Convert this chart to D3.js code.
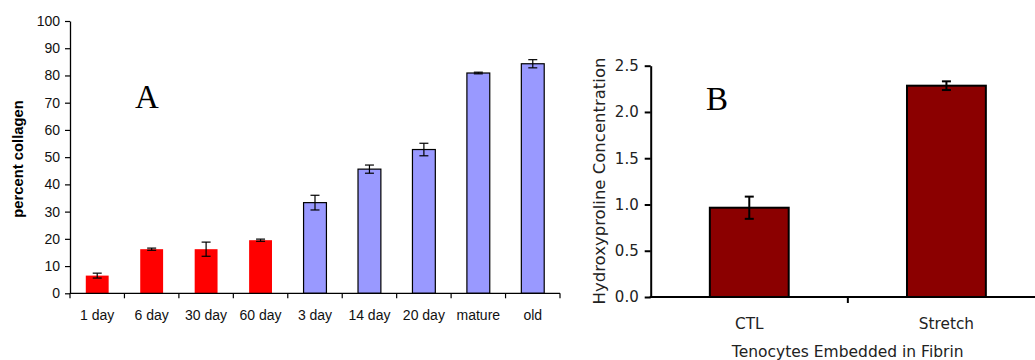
<!DOCTYPE html>
<html><head><meta charset="utf-8">
<script src="https://cdn.jsdelivr.net/npm/d3@7"></script>
<style>body{margin:0;background:#fff}svg{display:block}</style>
</head><body>
<svg id="c" width="1035" height="360"></svg>
<script>
// Panel A data
const catsA = ["1 day","6 day","30 day","60 day","3 day","14 day","20 day","mature","old"];
const valsA = [6.5, 16.2, 16.2, 19.5, 33.3, 45.6, 52.8, 80.9, 84.3];
const errA  = [0.9, 0.4, 2.6, 0.4, 2.7, 1.5, 2.3, 0.3, 1.5];
const groupA = ["red","red","red","red","blue","blue","blue","blue","blue"];
const ticksA = [0,10,20,30,40,50,60,70,80,90,100];
// Panel B data
const catsB = ["CTL","Stretch"];
const valsB = [0.965, 2.284];
const errB  = [0.12, 0.047];
const ticksB = [0,0.5,1.0,1.5,2.0,2.5];

const svg = d3.select("#c");

// ---------- Panel A ----------
const xA = d3.scaleBand().domain(catsA).range([70, 560]);
const yA = d3.scaleLinear().domain([0,100]).range([293.3, 21]);
const gA = svg.append("g");
const fontA = "'Liberation Sans', Arial, sans-serif";
const bwA = xA.bandwidth()*0.42;

gA.selectAll("rect.bar").data(catsA).enter().append("rect")
  .attr("x", (d)=>xA(d)+xA.bandwidth()/2-bwA/2)
  .attr("y", (d,i)=>yA(valsA[i]))
  .attr("width", bwA)
  .attr("height", (d,i)=>yA(0)-yA(valsA[i]))
  .attr("fill", (d,i)=>groupA[i]==="red" ? "#ff0000" : "#9999ff")
  .attr("stroke", (d,i)=>groupA[i]==="red" ? "none" : "#000")
  .attr("stroke-width", 1.2);

// error bars A
catsA.forEach((c,i)=>{
  const cx = xA(c)+xA.bandwidth()/2;
  const t = yA(valsA[i]+errA[i]), b = yA(valsA[i]-errA[i]);
  gA.append("line").attr("x1",cx).attr("x2",cx).attr("y1",t).attr("y2",b).attr("stroke","#000").attr("stroke-width",1.2);
  [t,b].forEach(y=>gA.append("line").attr("x1",cx-4.5).attr("x2",cx+4.5).attr("y1",y).attr("y2",y).attr("stroke","#000").attr("stroke-width",1.2));
});

// y axis A
const axA = gA.append("g").attr("transform","translate(70,0)")
  .call(d3.axisLeft(yA).tickValues(ticksA).tickSize(5).tickPadding(5).tickSizeOuter(0));
axA.select(".domain").attr("stroke","#000").attr("stroke-width",1.3);
axA.selectAll(".tick line").attr("stroke","#000").attr("stroke-width",1.2);
axA.selectAll("text").attr("font-family",fontA).attr("font-size",14).attr("fill","#111");

// x axis A
gA.append("line").attr("x1",70).attr("x2",560).attr("y1",yA(0)).attr("y2",yA(0)).attr("stroke","#000").attr("stroke-width",1.3);
const bA = catsA.map(c=>xA(c)).concat([xA.range()[1]]);
gA.selectAll("line.xt").data(bA).enter().append("line")
  .attr("x1",d=>d).attr("x2",d=>d).attr("y1",yA(0)).attr("y2",yA(0)+5)
  .attr("stroke","#000").attr("stroke-width",1.2);
gA.selectAll("text.xl").data(catsA).enter().append("text")
  .attr("x",d=>xA(d)+xA.bandwidth()/2).attr("y",320)
  .attr("text-anchor","middle").attr("font-family",fontA).attr("font-size",14).attr("fill","#111")
  .text(d=>d);
gA.append("text").attr("transform","translate(23,159) rotate(-90)")
  .attr("text-anchor","middle").attr("font-family",fontA).attr("font-weight","bold")
  .attr("font-size",14.8).attr("fill","#000").text("percent collagen");
gA.append("text").attr("x",147).attr("y",108).attr("text-anchor","middle")
  .attr("font-family","'Liberation Serif', 'Times New Roman', serif").attr("font-size",33).attr("fill","#000").text("A");

// ---------- Panel B ----------
const xB = d3.scaleBand().domain(catsB).range([650.7, 1045]);
const yB = d3.scaleLinear().domain([0,2.5]).range([297, 65.7]);
const gB = svg.append("g");
const fontB = "'DejaVu Sans', Verdana, sans-serif";
const bwB = xB.bandwidth()*0.4;

gB.selectAll("rect.bar").data(catsB).enter().append("rect")
  .attr("x", d=>xB(d)+xB.bandwidth()/2-bwB/2)
  .attr("y", (d,i)=>yB(valsB[i]))
  .attr("width", bwB)
  .attr("height", (d,i)=>yB(0)-yB(valsB[i]))
  .attr("fill","#8b0000").attr("stroke","#000").attr("stroke-width",2);

catsB.forEach((c,i)=>{
  const cx = xB(c)+xB.bandwidth()/2;
  const t = yB(valsB[i]+errB[i]), b = yB(valsB[i]-errB[i]);
  gB.append("line").attr("x1",cx).attr("x2",cx).attr("y1",t).attr("y2",b).attr("stroke","#000").attr("stroke-width",2);
  [t,b].forEach(y=>gB.append("line").attr("x1",cx-4.5).attr("x2",cx+4.5).attr("y1",y).attr("y2",y).attr("stroke","#000").attr("stroke-width",2));
});

const axB = gB.append("g").attr("transform","translate(650.7,0)")
  .call(d3.axisLeft(yB).tickValues(ticksB).tickFormat(d3.format(".1f")).tickSize(6).tickPadding(6).tickSizeOuter(0));
axB.select(".domain").attr("stroke","#000").attr("stroke-width",2);
axB.selectAll(".tick line").attr("stroke","#000").attr("stroke-width",2);
axB.selectAll("text").attr("font-family",fontB).attr("font-size",15).attr("fill","#222");

gB.append("line").attr("x1",649.7).attr("x2",1035).attr("y1",yB(0)).attr("y2",yB(0)).attr("stroke","#000").attr("stroke-width",2);
gB.selectAll("line.xt").data(catsB.slice(1)).enter().append("line")
  .attr("x1",d=>xB(d)).attr("x2",d=>xB(d)).attr("y1",yB(0)).attr("y2",yB(0)+6)
  .attr("stroke","#000").attr("stroke-width",2);
gB.selectAll("text.xl").data(catsB).enter().append("text")
  .attr("x",d=>xB(d)+xB.bandwidth()/2).attr("y",329)
  .attr("text-anchor","middle").attr("font-family",fontB).attr("font-size",15.3).attr("fill","#222")
  .text(d=>d);
gB.append("text").attr("x",847.7).attr("y",357).attr("text-anchor","middle")
  .attr("font-family",fontB).attr("font-size",15.5).attr("fill","#222").text("Tenocytes Embedded in Fibrin");
gB.append("text").attr("transform","translate(605,181) rotate(-90)")
  .attr("text-anchor","middle").attr("font-family",fontB).attr("font-size",16.5).attr("fill","#222")
  .text("Hydroxyproline Concentration");
gB.append("text").attr("x",717).attr("y",109.5).attr("text-anchor","middle")
  .attr("font-family","'Liberation Serif', 'Times New Roman', serif").attr("font-size",33).attr("fill","#000").text("B");
</script>
</body></html>
